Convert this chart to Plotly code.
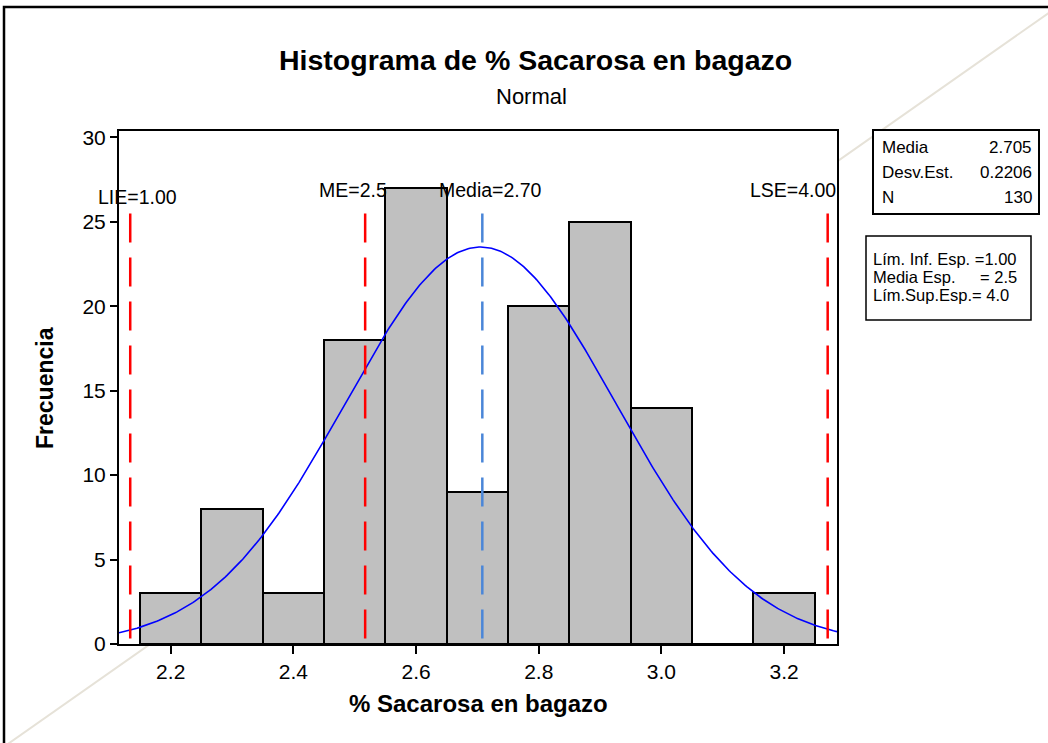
import numpy as np
import plotly.graph_objects as go

# ---- data ----
bin_centers = [2.2, 2.3, 2.4, 2.5, 2.6, 2.7, 2.8, 2.9, 3.0, 3.1, 3.2]
counts = [3, 8, 3, 18, 27, 9, 20, 25, 14, 0, 3]
bin_width = 0.1
mean_val = 2.705
sd_val = 0.2206
n_val = 130
ref_names = ["LIE=1.00", "ME=2.5", "Media=2.70", "LSE=4.00"]
ref_pos = [2.134, 2.517, 2.708, 3.271]   # displayed positions
ref_colors = ["#ff0000", "#ff0000", "#4a86d8", "#ff0000"]
ref_top = 25.5
x_ticks = [2.2, 2.4, 2.6, 2.8, 3.0, 3.2]
x_tick_text = ["2.2", "2.4", "2.6", "2.8", "3.0", "3.2"]
y_ticks = [0, 5, 10, 15, 20, 25, 30]
x_range = [2.1157, 3.2862]
y_range = [0, 30.38]

W, H = 1048, 743
L, R, T, B = 119, 837, 131, 644
ml, mr, mt, mb = L, W - R, T, H - B


def px(xp):
    return (xp - L) / (R - L)


def py(yp):
    return (B - yp) / (B - T)


FONT = "Liberation Sans, Arial, sans-serif"

fig = go.Figure()

fig.add_trace(go.Bar(
    x=bin_centers, y=counts, width=bin_width,
    marker=dict(color="#c0c0c0", line=dict(color="black", width=2)),
    hoverinfo="x+y",
))

xs = np.linspace(x_range[0], x_range[1], 400)
ys = n_val * bin_width / (sd_val * np.sqrt(2 * np.pi)) * np.exp(-0.5 * ((xs - mean_val) / sd_val) ** 2)
fig.add_trace(go.Scatter(x=xs, y=ys, mode="lines", line=dict(color="#0000ff", width=1.6)))

for pos, col in zip(ref_pos, ref_colors):
    fig.add_trace(go.Scatter(
        x=[pos, pos], y=[ref_top, 0], mode="lines",
        line=dict(color=col, width=2.5, dash="29px,15px"),
    ))

shapes = [
    # diagonal background line
    dict(type="line", xref="paper", yref="paper", layer="below",
         x0=px(5), y0=py(746), x1=px(1050), y1=py(12),
         line=dict(color="#e6e2d8", width=2)),
    # white plot area
    dict(type="rect", xref="paper", yref="paper", layer="below",
         x0=0, y0=0, x1=1, y1=1, fillcolor="white", line=dict(width=0)),
    # outer border
    dict(type="rect", xref="paper", yref="paper", layer="above",
         x0=px(4), y0=py(800), x1=px(1100), y1=py(7),
         line=dict(color="black", width=2.5)),
    # stats box 1
    dict(type="rect", xref="paper", yref="paper", layer="below",
         x0=px(873), y0=py(214), x1=px(1039), y1=py(130),
         fillcolor="white", line=dict(color="black", width=2)),
    # stats box 2
    dict(type="rect", xref="paper", yref="paper", layer="below",
         x0=px(866), y0=py(320), x1=px(1031), y1=py(236),
         fillcolor="white", line=dict(color="black", width=1.5)),
]

ann = []


def A(text, x, y, size, bold=False, xanchor="center", yanchor="middle", angle=0):
    ann.append(dict(text=("<b>%s</b>" % text) if bold else text,
                    xref="paper", yref="paper", x=x, y=y, showarrow=False,
                    xanchor=xanchor, yanchor=yanchor, textangle=angle,
                    font=dict(family=FONT, size=size, color="black")))


A("Histograma de % Sacarosa en bagazo", px(535), py(60), 28.5, bold=True)
A("Normal", px(531), py(97), 22)
A("% Sacarosa en bagazo", px(478), py(703), 24, bold=True)
A("Frecuencia", px(45), py(388), 23, bold=True, angle=-90)

# reference labels
A(ref_names[0], px(137), py(197), 19.5)
A(ref_names[1], px(353), py(190), 19.5)
A(ref_names[2], px(490), py(190), 19.5)
A(ref_names[3], px(838), py(190), 19.5, xanchor="right")

# stats box 1
rows1 = [("Media", "2.705"), ("Desv.Est.", "0.2206"), ("N", str(n_val))]
for i, (lab, val) in enumerate(rows1):
    yy = 147 + 25 * i
    A(lab, px(880), py(yy), 17, xanchor="left")
    A(val, px(1034), py(yy), 17, xanchor="right")

# stats box 2
A("Lím. Inf. Esp. =1.00", px(871), py(259), 16.5, xanchor="left")
A("Media Esp.", px(871), py(277), 16.5, xanchor="left")
A("= 2.5", px(1019), py(277), 16.5, xanchor="right")
A("Lím.Sup.Esp.= 4.0", px(871), py(295), 16.5, xanchor="left")

fig.update_layout(
    width=W, height=H,
    margin=dict(l=ml, r=mr, t=mt, b=mb, pad=0),
    paper_bgcolor="white", plot_bgcolor="rgba(0,0,0,0)",
    showlegend=False, bargap=0,
    shapes=shapes, annotations=ann,
    font=dict(family=FONT, color="black"),
)
fig.update_xaxes(range=x_range, tickvals=x_ticks, ticktext=x_tick_text,
                 ticks="outside", ticklen=8, tickwidth=2, tickcolor="black",
                 showline=True, linecolor="black", linewidth=2, mirror=True,
                 showgrid=False, zeroline=False,
                 tickfont=dict(family=FONT, size=21, color="black"))
fig.update_yaxes(range=y_range, tickvals=y_ticks,
                 ticks="outside", ticklen=7, tickwidth=2, tickcolor="black",
                 showline=True, linecolor="black", linewidth=2, mirror=True,
                 showgrid=False, zeroline=False,
                 tickfont=dict(family=FONT, size=21, color="black"))

fig.write_html("out.html", config={"displayModeBar": False},
               post_script="document.body.style.margin='0px';document.body.style.overflow='hidden';")
